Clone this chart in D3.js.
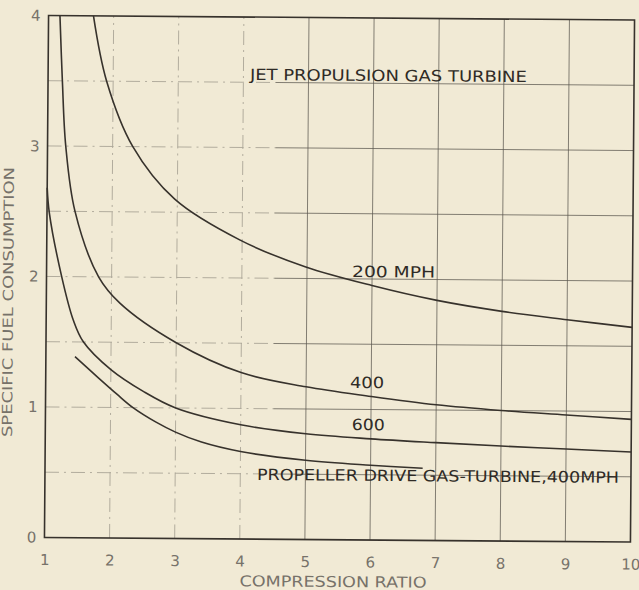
<!DOCTYPE html>
<html>
<head>
<meta charset="utf-8">
<script src="https://cdn.jsdelivr.net/npm/d3@7"></script>
<style>
  html, body { margin: 0; padding: 0; background: #f1ead5; }
  svg { display: block; }
  text { font-family: "DejaVu Sans", "Liberation Sans", sans-serif; }
</style>
</head>
<body>
<svg id="chart" width="639" height="590"></svg>
<script>
// Compression ratio (x) and specific fuel consumption (y) readings for each curve
const ratioTicks = [1, 2, 3, 4, 5, 6, 7, 8, 9, 10];
const fuelTicks = [0, 1, 2, 3, 4];

const jet200Ratio = [1.69, 1.9, 2.31, 2.96, 3.97, 4.97, 6.0, 7.0, 8.0, 9.0, 10];
const jet200Fuel  = [4.0, 3.5, 3.0, 2.6, 2.29, 2.09, 1.95, 1.84, 1.76, 1.70, 1.645];

const jet400Ratio = [1.175, 1.22, 1.28, 1.43, 1.8, 2.13, 3, 4, 5, 6, 7, 8, 9, 10];
const jet400Fuel  = [4.0, 3.5, 3.0, 2.5, 2.0, 1.80, 1.5, 1.275, 1.17, 1.10, 1.04, 1.0, 0.97, 0.94];

const jet600Ratio = [1.0, 1.035, 1.233, 1.416, 1.573, 2.0, 2.5, 3.0, 4, 5, 6, 7, 8, 9, 10];
const jet600Fuel  = [2.68, 2.49, 2.0, 1.668, 1.502, 1.29, 1.125, 1.0, 0.875, 0.81, 0.775, 0.75, 0.728, 0.709, 0.69];

const propRatio = [1.447, 1.8, 2.1, 2.344, 2.7, 3.0, 3.4, 4.0, 5.0, 6.0, 6.8];
const propFuel  = [1.387, 1.23, 1.1, 1.0, 0.89, 0.815, 0.74, 0.67, 0.607, 0.573, 0.553];

const svg = d3.select("#chart");
const plot = { left: 46.5, right: 632.5, top: 17.75, bottom: 539.75 };

const x = d3.scaleLinear().domain([1, 10]).range([plot.left, plot.right]);
const y = d3.scaleLinear().domain([0, 4]).range([plot.bottom, plot.top]);

// the printed sheet sits slightly askew
const cx = (plot.left + plot.right) / 2, cy = (plot.top + plot.bottom) / 2;
const g = svg.append("g").attr("transform", `rotate(0.45 ${cx} ${cy})`);

const ink = "#37322c";
const gridSolid = "#5c5850";
const gridFaint = "#aba597";

// grid: vertical lines at each whole ratio, horizontal every 0.5
const grid = g.append("g");
ratioTicks.slice(1, -1).forEach(v => {
  const faint = v <= 4;
  grid.append("line")
    .attr("x1", x(v)).attr("x2", x(v))
    .attr("y1", y(0)).attr("y2", y(4))
    .attr("stroke", faint ? gridFaint : gridSolid)
    .attr("stroke-width", faint ? 0.9 : 0.75)
    .attr("stroke-dasharray", faint ? "14,5,2,5" : null);
});
d3.range(0.5, 4, 0.5).forEach(v => {
  grid.append("line")
    .attr("x1", x(1)).attr("x2", x(4.5))
    .attr("y1", y(v)).attr("y2", y(v))
    .attr("stroke", gridFaint).attr("stroke-width", 0.9)
    .attr("stroke-dasharray", "14,5,2,5");
  grid.append("line")
    .attr("x1", x(4.5)).attr("x2", x(10))
    .attr("y1", y(v)).attr("y2", y(v))
    .attr("stroke", gridSolid).attr("stroke-width", 0.75);
});

// curves
const line = d3.line()
  .x(d => x(d[0]))
  .y(d => y(d[1]))
  .curve(d3.curveCatmullRom.alpha(0.5));

const series = [
  [jet200Ratio, jet200Fuel],
  [jet400Ratio, jet400Fuel],
  [jet600Ratio, jet600Fuel],
  [propRatio, propFuel]
];
g.append("g").selectAll("path")
  .data(series.map(([xs, ys]) => xs.map((v, i) => [v, ys[i]])))
  .join("path")
  .attr("d", line)
  .attr("fill", "none")
  .attr("stroke", ink)
  .attr("stroke-width", 1.6);

// frame
g.append("rect")
  .attr("x", x(1)).attr("y", y(4))
  .attr("width", x(10) - x(1)).attr("height", y(0) - y(4))
  .attr("fill", "none").attr("stroke", ink).attr("stroke-width", 1.6);

// axes
const xAxis = d3.axisBottom(x).tickValues(ratioTicks).tickSize(0).tickPadding(17)
  .tickFormat(d3.format("d"));
const yAxis = d3.axisLeft(y).tickValues(fuelTicks).tickSize(0).tickPadding(8)
  .tickFormat(d3.format("d"));

const gx = g.append("g").attr("transform", `translate(0,${plot.bottom})`).call(xAxis);
const gy = g.append("g").attr("transform", `translate(${plot.left},0)`).call(yAxis);
[gx, gy].forEach(a => {
  a.select(".domain").remove();
  a.selectAll("text")
    .attr("fill", "#77726a")
    .style("font-size", "15px")
    .style("font-family", "\"DejaVu Sans\", sans-serif");
});

// axis titles
g.append("text")
  .attr("transform", `translate(13.2,304.6) rotate(-90)`)
  .attr("text-anchor", "middle")
  .attr("textLength", 270).attr("lengthAdjust", "spacingAndGlyphs")
  .attr("fill", "#77726a").style("font-size", "14px")
  .text("SPECIFIC FUEL CONSUMPTION");

g.append("text")
  .attr("x", 335.4).attr("y", 587)
  .attr("text-anchor", "middle")
  .attr("textLength", 187).attr("lengthAdjust", "spacingAndGlyphs")
  .attr("fill", "#77726a").style("font-size", "15px")
  .text("COMPRESSION RATIO");

// in-plot labels, placed in data coordinates
const labels = [
  { t: "JET PROPULSION GAS TURBINE", rx: 4.10, fy: 3.518, w: 277 },
  { t: "200 MPH", rx: 5.692, fy: 2.014, w: 83 },
  { t: "400", rx: 5.675, fy: 1.164, w: 34 },
  { t: "600", rx: 5.706, fy: 0.842, w: 33 },
  { t: "PROPELLER DRIVE GAS-TURBINE,400MPH", rx: 4.257, fy: 0.453, w: 362 }
];
g.append("g").selectAll("text")
  .data(labels)
  .join("text")
  .attr("x", d => x(d.rx))
  .attr("y", d => y(d.fy))
  .attr("textLength", d => d.w)
  .attr("lengthAdjust", "spacingAndGlyphs")
  .attr("fill", "#2f2b26")
  .style("font-size", "15.5px")
  .text(d => d.t);
</script>
</body>
</html>
